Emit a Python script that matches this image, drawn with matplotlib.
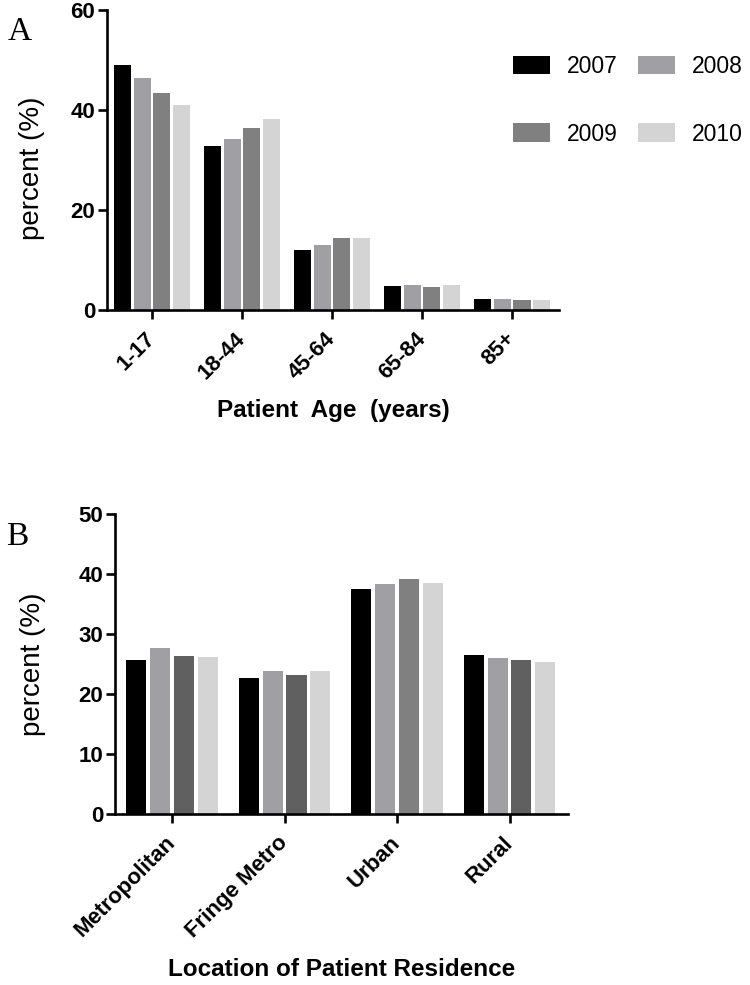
import numpy as np
import matplotlib
matplotlib.use('Agg')
import matplotlib.pyplot as plt

plt.rcParams['font.family'] = ['Liberation Sans', 'DejaVu Sans']

years = ['2007', '2008', '2009', '2010']

# panel A: patient age
ages = ['1-17', '18-44', '45-64', '65-84', '85+']
age_2007 = [49.0, 32.9, 12.1, 4.8, 2.3]
age_2008 = [46.5, 34.3, 13.1, 5.1, 2.2]
age_2009 = [43.5, 36.5, 14.4, 4.7, 2.0]
age_2010 = [41.1, 38.2, 14.5, 5.1, 2.0]

# panel B: location of residence
places = ['Metropolitan', 'Fringe Metro', 'Urban', 'Rural']
res_2007 = [25.6, 22.7, 37.5, 26.5]
res_2008 = [27.7, 23.9, 38.3, 26.0]
res_2009 = [26.4, 23.1, 39.2, 25.6]
res_2010 = [26.1, 23.8, 38.5, 25.3]

colors_a = ['#000000', '#a0a0a4', '#808080', '#d4d4d4']
colors_b = ['#000000', '#a0a0a4', ['#606060', '#606060', '#808080', '#606060'], '#d4d4d4']

fig = plt.figure(figsize=(7.5, 9.85), dpi=100)
W, H = 750, 985


def make_ax(left, right, top, bottom):
    return fig.add_axes([left / W, 1 - bottom / H, (right - left) / W, (bottom - top) / H])


def style(ax):
    for s in ['top', 'right']:
        ax.spines[s].set_visible(False)
    for s in ['left', 'bottom']:
        ax.spines[s].set_linewidth(1.9)
    ax.tick_params(axis='y', direction='out', length=6.5, width=1.9, pad=2, labelsize=16)
    ax.tick_params(axis='x', direction='out', length=6.5, width=1.9, pad=12, labelsize=16)
    for t in ax.get_yticklabels() + ax.get_xticklabels():
        t.set_fontweight('bold')


# ---- A ----
axA = make_ax(107, 559, 10, 310)
x = np.arange(len(ages))
bw, step = 0.19, 0.217
series_a = [age_2007, age_2008, age_2009, age_2010]
bars = []
for i, vals in enumerate(series_a):
    b = axA.bar(x + (i - 1.5) * step, vals, bw, color=colors_a[i], label=years[i])
    bars.append(b)
axA.set_xlim(-0.5, 4.52)
axA.set_ylim(0, 60)
axA.set_yticks([0, 20, 40, 60])
axA.set_xticks(x)
axA.set_xticklabels(ages, rotation=45, ha='right', va='center', rotation_mode='anchor')
style(axA)
axA.set_ylabel('percent (%)', fontsize=20)
axA.yaxis.set_label_coords(-62 / 452, 0.473)
axA.set_xlabel('Patient  Age  (years)', fontsize=17.5, fontweight='bold', va='center')
axA.xaxis.set_label_coords(0.5, (310 - 410) / 300)

# ---- B ----
axB = make_ax(115, 568, 514, 814)
x = np.arange(len(places))
bw, step = 0.178, 0.213
series_b = [res_2007, res_2008, res_2009, res_2010]
for i, vals in enumerate(series_b):
    axB.bar(x + (i - 1.5) * step, vals, bw, color=colors_b[i])
axB.set_xlim(-0.507, 3.52)
axB.set_ylim(0, 50)
axB.set_yticks([0, 10, 20, 30, 40, 50])
axB.set_xticks(x)
axB.set_xticklabels(places, rotation=45, ha='right', va='center', rotation_mode='anchor')
style(axB)
axB.set_ylabel('percent (%)', fontsize=20)
axB.yaxis.set_label_coords(-69 / 453, 0.5)
axB.set_xlabel('Location of Patient Residence', fontsize=17.5, fontweight='bold', va='center')
axB.xaxis.set_label_coords(0.5, (814 - 970) / 300)

# legend, rows 2007/2008 then 2009/2010
order = [0, 2, 1, 3]
fig.legend([bars[i] for i in order], [years[i] for i in order],
           loc='upper left', bbox_to_anchor=(513 / W, 1 - 55 / H), ncol=2,
           frameon=False, borderpad=0, borderaxespad=0, fontsize=16.5,
           handlelength=1.6, handleheight=0.87, handletextpad=0.74,
           columnspacing=0.9, labelspacing=1.95)

fig.text(8 / W, 1 - 40 / H, 'A', fontsize=24, family='Liberation Serif')
fig.text(6 / W, 1 - 545 / H, 'B', fontsize=24, family='Liberation Serif')

fig.savefig('out.png', dpi=100)
